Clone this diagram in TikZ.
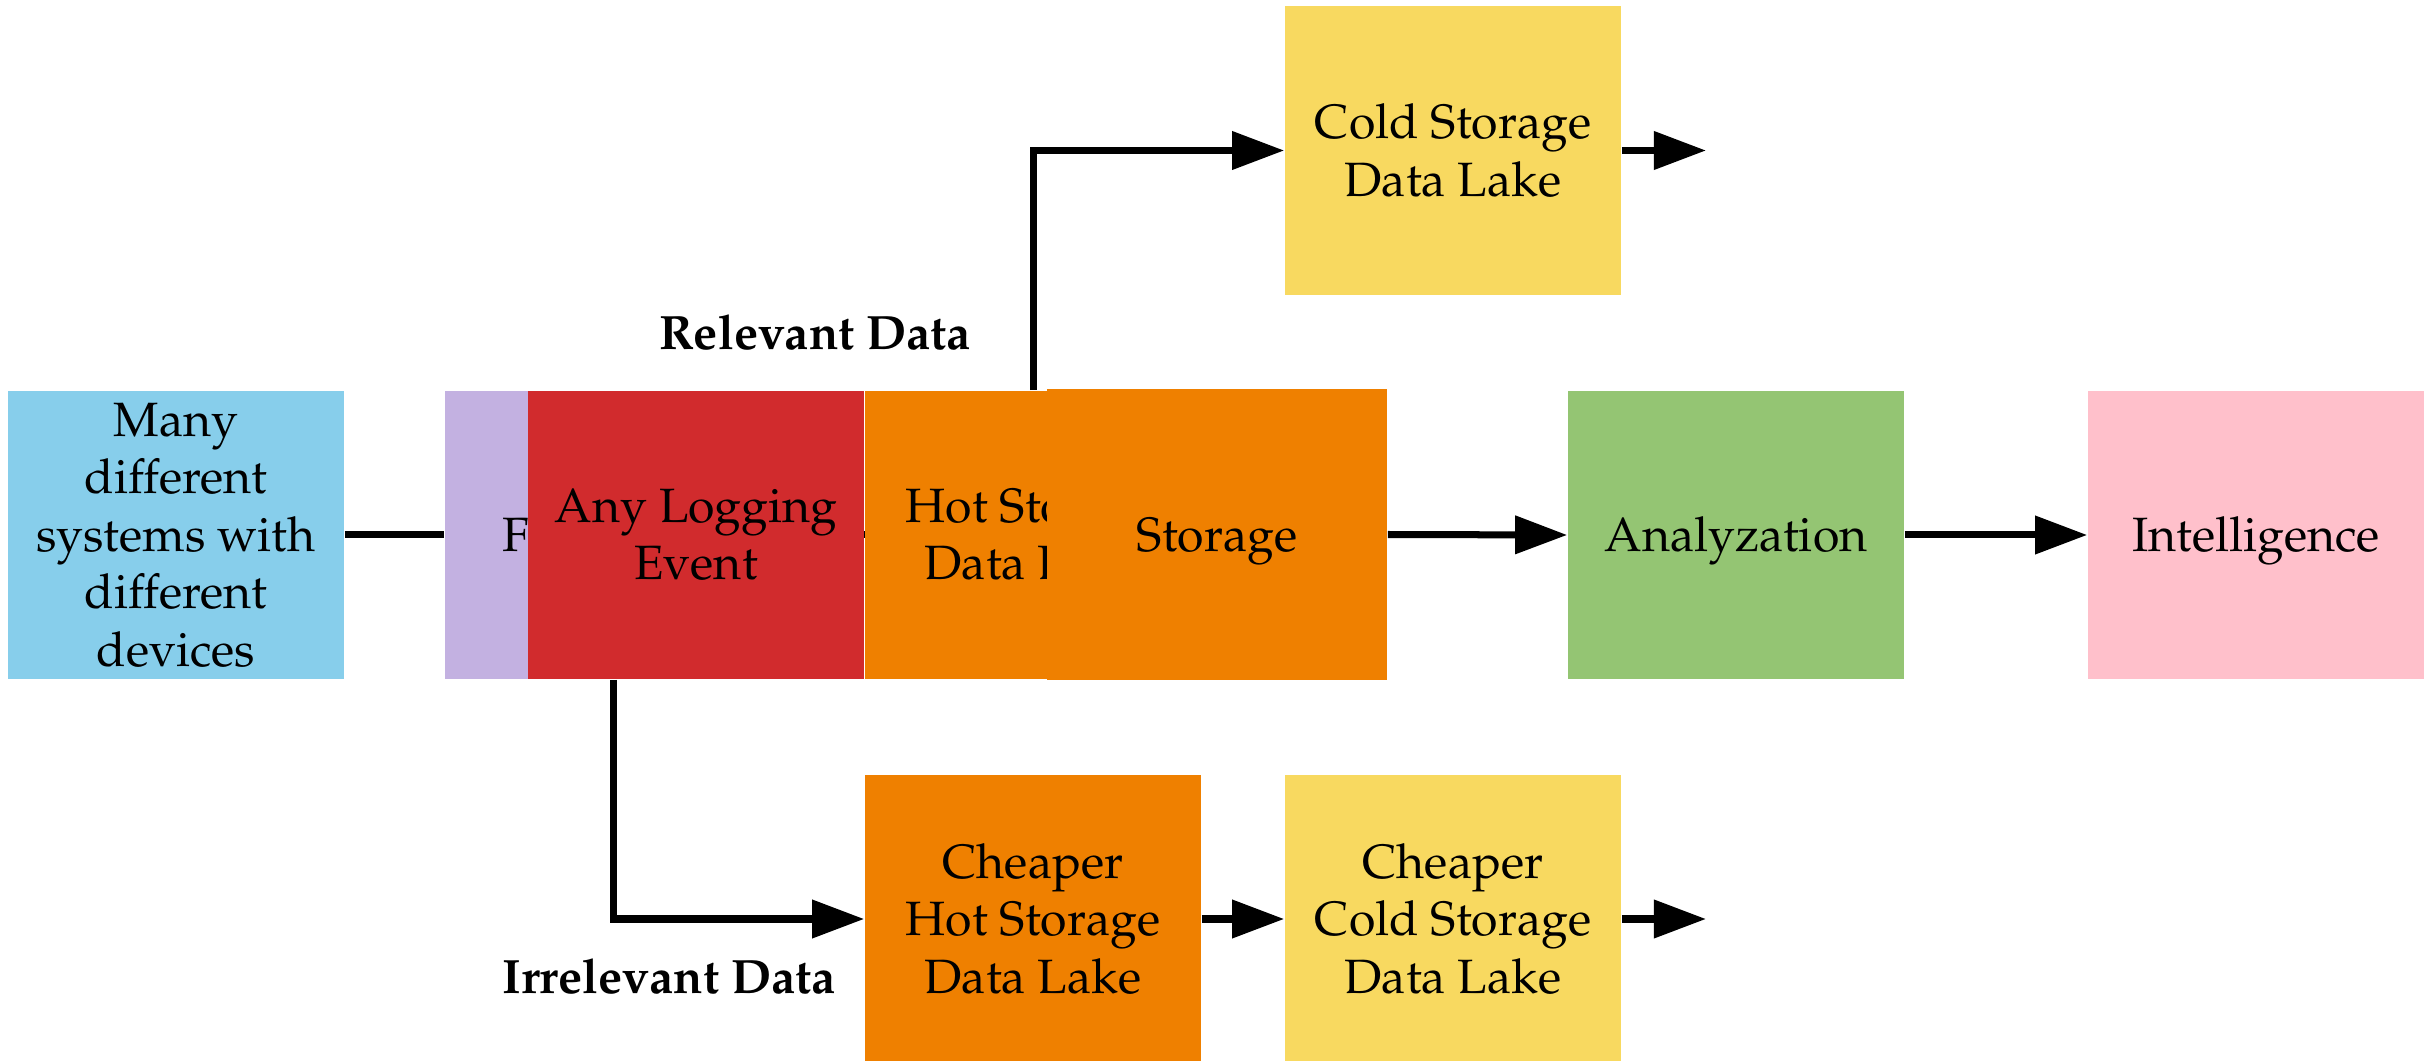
\documentclass[tikz,border=0pt]{standalone}
\usepackage[T1]{fontenc}
\usepackage{mathpazo}
\usetikzlibrary{arrows.meta}
\pgfdeclarelayer{bg}
\pgfsetlayers{bg,main}
\newcommand\boxfont{\fontsize{13.7}{16.35}\selectfont}
\definecolor{cblue}{HTML}{87CEEB}
\definecolor{cpurple}{HTML}{C3B1E1}
\definecolor{cred}{HTML}{D12B2D}
\definecolor{corange}{HTML}{EF8000}
\definecolor{cyellow}{HTML}{F8D960}
\definecolor{cgreen}{HTML}{94C573}
\definecolor{cpink}{HTML}{FFC0CB}
\tikzset{
  stage/.style={rectangle, inner sep=0pt, minimum width=3.36cm, minimum height=2.88cm,
    align=center, font=\boxfont},
  oneline/.style={text height=9.6pt, text depth=0pt},
  link/.style={line width=0.07cm},
  flow/.style={link, -{Triangle[length=0.52cm,width=0.37cm]}},
  lab/.style={font=\boxfont\bfseries, inner sep=0pt, anchor=base},
}
\begin{document}
\begin{tikzpicture}[x=0.01cm,y=-0.01cm]
\useasboundingbox (0,0) rectangle (2435,1061);

% main pipeline
\node[stage, fill=cblue] (src) at (176,535) {Many\\different\\systems with\\different\\devices};
\node[stage, fill=cpurple] (filt) at (613,535) {};
\node[inner sep=0pt, anchor=base west, font=\boxfont] (filttxt) at (502,552) {F};
\node[stage, fill=cred] (evt) at (696,535) {Any Logging\\Event};
\node[stage, fill=corange] (hot) at (1033,535) {Hot Storage\\Data Lake};
\node[stage, oneline, fill=corange, minimum width=3.40cm, minimum height=2.91cm] (store) at (1217,534.5) {Storage};
\node[stage, oneline, fill=cgreen] (ana) at (1736,535) {Analyzation};
\node[stage, oneline, fill=cpink] (intel) at (2256,535) {Intelligence};

% relevant branch
\node[stage, fill=cyellow, minimum height=2.89cm] (cold) at (1453,150.5) {Cold Storage\\Data Lake};
% irrelevant branch
\node[stage, fill=corange] (chot) at (1033,919) {Cheaper\\Hot Storage\\Data Lake};
\node[stage, fill=cyellow] (ccold) at (1453,919) {Cheaper\\Cold Storage\\Data Lake};

\coordinate (coldout) at (1706,150.5);
\coordinate (ccoldout) at (1706,919);

\node[lab] (rel) at (815,350) {Relevant Data};
\node[lab] (irr) at (669,993) {Irrelevant Data};

\begin{pgfonlayer}{bg}
  \draw[link] (src.east) -- (filt.west);
  \draw[link] (evt.east) -- (hot.west);
  \draw[flow] (hot.north) |- (cold.west);
  \draw[flow] (filt.south) |- (chot.west);
  \draw[flow] (store.east) -- (ana.west);
  \draw[flow] (ana.east) -- (intel.west);
  \draw[flow] (cold.east) -- (coldout);
  \draw[flow] (chot.east) -- (ccold.west);
  \draw[flow] (ccold.east) -- (ccoldout);
\end{pgfonlayer}
\end{tikzpicture}
\end{document}
